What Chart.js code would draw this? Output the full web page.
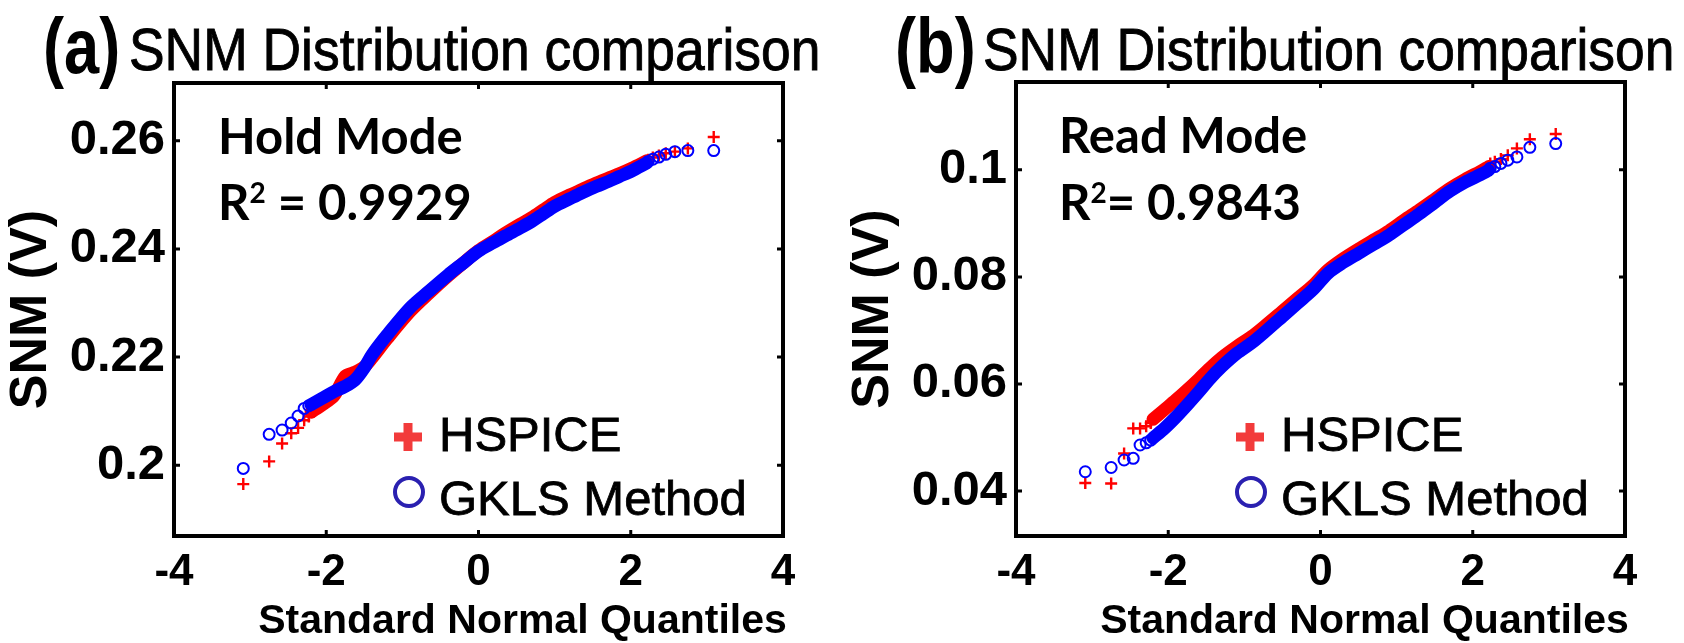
<!DOCTYPE html>
<html>
<head>
<meta charset="utf-8">
<title>SNM Distribution comparison</title>
<script src="https://cdn.jsdelivr.net/npm/chart.js@4.4.0/dist/chart.umd.min.js"></script>
<style>
  html, body { margin: 0; padding: 0; background: #fff; }
  #figure { position: relative; width: 1684px; height: 643px; overflow: hidden; }
  .panel { position: absolute; top: 0; width: 842px; height: 643px; }
  .panel canvas { position: absolute; left: 0; top: 0; }
  .tag, .heading { position: absolute; white-space: nowrap; color: #000; line-height: 1;
                   font-family: 'Liberation Sans', Arial, sans-serif; transform-origin: 0 0; }
  .tag { font-size: 78px; font-weight: 700; top: 7px; transform: scaleX(0.81); }
  .heading { font-size: 60px; top: 20px; transform: scaleX(0.89); -webkit-text-stroke: 0.9px #000; }
  .note { position: absolute; white-space: nowrap; color: #000; line-height: 1;
          font-family: Lato, sans-serif; font-weight: 700; font-size: 49px; }
  .note sup { font-size: 28px; vertical-align: 0; position: relative; top: -17px; }
</style>
</head>
<body>
<div id="figure">
  <div class="panel" style="left:0">
    <canvas id="holdChart" width="842" height="643"></canvas>
    <div class="tag" style="left:43px">(a)</div>
    <div class="heading" style="left:129px">SNM Distribution comparison</div>
    <div class="note" style="left:218px; top:111px">Hold Mode</div>
    <div class="note" style="left:218px; top:177px">R<sup>2</sup> = 0.9929</div>
  </div>
  <div class="panel" style="left:842px">
    <canvas id="readChart" width="842" height="643"></canvas>
    <div class="tag" style="left:53px">(b)</div>
    <div class="heading" style="left:141px">SNM Distribution comparison</div>
    <div class="note" style="left:217px; top:110px">Read Mode</div>
    <div class="note" style="left:217px; top:177px">R<sup>2</sup>= 0.9843</div>
  </div>
</div>

<script>
Chart.defaults.font.family = "'Liberation Sans', Arial, sans-serif";
Chart.defaults.color = '#000';

// shared x axis: standard normal quantiles
const xTicks = [-4, -2, 0, 2, 4];
const xRange = [-4, 4];
const xAxisTitle = 'Standard Normal Quantiles';
const yAxisTitle = 'SNM (V)';
const legendLabels = ['HSPICE', 'GKLS Method'];

// quantiles of the isolated samples at both ends of the distribution
const tailQuantLow = [-3.09, -2.75, -2.58, -2.46, -2.37, -2.29, -2.23];
const tailQuantHigh = [2.23, 2.29, 2.37, 2.46, 2.58, 2.75, 3.09];

// ---- (a) hold mode ----
const holdYTicks = [0.2, 0.22, 0.24, 0.26];
const holdYRange = [0.1869, 0.2707];
const holdBandQuant = [-2.20, -2.05, -1.90, -1.75, -1.62, -1.50, -1.40, -1.20, -0.90, -0.65, -0.40, -0.20, 0.00,
                       0.20, 0.35, 0.55, 0.70, 0.85, 1.00, 1.20, 1.36, 1.55, 1.71, 1.85, 2.01, 2.21];
const holdHspiceBand = [0.2098, 0.2112, 0.2128, 0.2165, 0.2172, 0.2182, 0.2198, 0.2234, 0.2284, 0.2318, 0.2350, 0.2374, 0.2397,
                        0.2415, 0.2429, 0.2446, 0.2458, 0.2472, 0.2486, 0.2500, 0.2510, 0.2522, 0.2531, 0.2539, 0.2549, 0.2563];
const holdGklsBand = [0.2112, 0.2124, 0.2136, 0.2146, 0.2158, 0.2180, 0.2204, 0.2241, 0.2291, 0.2322, 0.2352, 0.2374, 0.2396,
                      0.2412, 0.2424, 0.2439, 0.2451, 0.2465, 0.2479, 0.2493, 0.2504, 0.2516, 0.2525, 0.2534, 0.2544, 0.2559];
const holdHspiceLow = [0.1965, 0.2007, 0.2040, 0.2059, 0.2069, 0.2083, 0.2090];
const holdHspiceHigh = [0.2565, 0.2569, 0.2573, 0.2577, 0.2580, 0.2586, 0.2607];
const holdGklsLow = [0.1994, 0.2057, 0.2065, 0.2078, 0.2091, 0.2105, 0.2110];
const holdGklsHigh = [0.2562, 0.2566, 0.2570, 0.2575, 0.2580, 0.2582, 0.2582];

// ---- (b) read mode ----
const readYTicks = [0.04, 0.06, 0.08, 0.1];
const readYRange = [0.0316, 0.1164];
const readBandQuant = [-2.20, -2.05, -1.90, -1.75, -1.60, -1.45, -1.30, -1.10, -0.90, -0.70, -0.50, -0.30, -0.10,
                       0.10, 0.30, 0.50, 0.70, 0.90, 1.10, 1.30, 1.50, 1.70, 1.90, 2.10, 2.21];
const readHspiceBand = [0.0534, 0.0552, 0.0570, 0.0589, 0.0609, 0.0630, 0.0649, 0.0670, 0.0689, 0.0712, 0.0736, 0.0760, 0.0784,
                        0.0813, 0.0834, 0.0852, 0.0869, 0.0886, 0.0906, 0.0925, 0.0945, 0.0965, 0.0982, 0.0997, 0.1006];
const readGklsBand = [0.0499, 0.0517, 0.0538, 0.0561, 0.0585, 0.0610, 0.0632, 0.0657, 0.0677, 0.0701, 0.0726, 0.0751, 0.0776,
                      0.0807, 0.0827, 0.0844, 0.0861, 0.0878, 0.0898, 0.0918, 0.0939, 0.0960, 0.0977, 0.0991, 0.0999];
const readHspiceLow = [0.0415, 0.0414, 0.0470, 0.0517, 0.0517, 0.0521, 0.0527];
const readHspiceHigh = [0.1012, 0.1015, 0.1020, 0.1027, 0.1040, 0.1057, 0.1067];
const readGklsLow = [0.0436, 0.0444, 0.0458, 0.0461, 0.0486, 0.0490, 0.0495];
const readGklsHigh = [0.1003, 0.1006, 0.1012, 0.1018, 0.1024, 0.1042, 0.1049];

const RED = '#ff0000';
const BLUE = '#0000ff';

function toPoints(xs, ys) {
    return xs.map((x, i) => ({ x: x, y: ys[i] }));
}

// box frame with inward ticks on all four sides, plus the x axis title
const framePlugin = {
    id: 'frame',
    afterDatasetsDraw(chart) {
        const { ctx, chartArea: a, scales: { x, y } } = chart;
        const len = 6;
        ctx.save();
        ctx.strokeStyle = '#000';
        ctx.lineWidth = 3;
        ctx.beginPath();
        x.ticks.forEach(t => {
            const px = x.getPixelForValue(t.value);
            if (px < a.left + 2 || px > a.right - 2) return;
            ctx.moveTo(px, a.bottom); ctx.lineTo(px, a.bottom - len);
            ctx.moveTo(px, a.top); ctx.lineTo(px, a.top + len);
        });
        y.ticks.forEach(t => {
            const py = y.getPixelForValue(t.value);
            ctx.moveTo(a.left, py); ctx.lineTo(a.left + len, py);
            ctx.moveTo(a.right, py); ctx.lineTo(a.right - len, py);
        });
        ctx.stroke();
        ctx.lineWidth = 4;
        ctx.strokeRect(a.left, a.top, a.width, a.height);

        // axis title sits a little right of the axis centre
        ctx.fillStyle = '#000';
        ctx.font = "bold 41px 'Liberation Sans', Arial, sans-serif";
        ctx.textAlign = 'center';
        ctx.textBaseline = 'alphabetic';
        ctx.fillText(xAxisTitle, (a.left + a.right) / 2 + 44, 633);
        ctx.restore();
    }
};

// legend inside the lower right of the axes
const markerLegendPlugin = {
    id: 'markerLegend',
    afterDraw(chart) {
        const { ctx, chartArea: a } = chart;
        const mx = a.left + 234;
        const tx = a.left + 265;
        ctx.save();
        // thick red plus
        ctx.strokeStyle = '#f23b3b';
        ctx.lineWidth = 9;
        ctx.beginPath();
        ctx.moveTo(mx - 14, 437); ctx.lineTo(mx + 14, 437);
        ctx.moveTo(mx, 423); ctx.lineTo(mx, 451);
        ctx.stroke();
        // open blue circle
        ctx.strokeStyle = '#2a20b0';
        ctx.lineWidth = 4;
        ctx.beginPath();
        ctx.arc(mx + 1, 492, 14, 0, Math.PI * 2);
        ctx.stroke();
        ctx.fillStyle = '#000';
        ctx.strokeStyle = '#000';
        ctx.lineWidth = 0.8;
        ctx.font = "49px 'Liberation Sans', Arial, sans-serif";
        ctx.textBaseline = 'alphabetic';
        legendLabels.forEach((label, i) => {
            const ty = i === 0 ? 451 : 515;
            ctx.fillText(label, tx, ty);
            ctx.strokeText(label, tx, ty);
        });
        ctx.restore();
    }
};

function buildDatasets(bandQuant, hspiceBand, gklsBand, hspiceLow, hspiceHigh, gklsLow, gklsHigh) {
    const tailQuant = tailQuantLow.concat(tailQuantHigh);
    return [{
        label: legendLabels[1],
        data: toPoints(bandQuant, gklsBand),
        showLine: true,
        borderColor: BLUE,
        borderWidth: 13,
        borderCapStyle: 'round',
        borderJoinStyle: 'round',
        tension: 0.3,
        pointRadius: 0,
        order: 1
    }, {
        label: legendLabels[1],
        data: toPoints(tailQuant, gklsLow.concat(gklsHigh)),
        pointStyle: 'circle',
        pointRadius: 5.5,
        borderWidth: 2,
        borderColor: BLUE,
        backgroundColor: 'rgba(0,0,0,0)',
        order: 1
    }, {
        label: legendLabels[0],
        data: toPoints(bandQuant, hspiceBand),
        showLine: true,
        borderColor: RED,
        borderWidth: 13,
        borderCapStyle: 'round',
        borderJoinStyle: 'round',
        tension: 0.3,
        pointRadius: 0,
        order: 2
    }, {
        label: legendLabels[0],
        data: toPoints(tailQuant, hspiceLow.concat(hspiceHigh)),
        pointStyle: 'cross',
        pointRadius: 6,
        borderWidth: 2.4,
        borderColor: RED,
        order: 2
    }];
}

function buildScales(yRange, yTicks) {
    return {
        x: {
            type: 'linear',
            min: xRange[0],
            max: xRange[1],
            afterBuildTicks: s => { s.ticks = xTicks.map(v => ({ value: v })); },
            afterFit: s => { s.height = 107; },
            grid: { display: false, drawTicks: false },
            border: { display: false },
            ticks: { font: { size: 44, weight: 'bold' }, padding: 10, maxRotation: 0, autoSkip: false }
        },
        y: {
            type: 'linear',
            min: yRange[0],
            max: yRange[1],
            afterBuildTicks: s => { s.ticks = yTicks.map(v => ({ value: v })); },
            afterFit: s => { s.width = 174; },
            grid: { display: false, drawTicks: false },
            border: { display: false },
            ticks: { font: { size: 49, weight: 'bold' }, padding: 9, autoSkip: false,
                      callback: v => String(Number(v.toFixed(2))) },
            title: { display: true, text: yAxisTitle,
                     font: { size: 52, weight: 'bold' }, padding: { top: 0, bottom: 0 } }
        }
    };
}

function initializeQQChart(canvasId, datasets, yRange, yTicks, topPad) {
    const ctx = document.getElementById(canvasId).getContext('2d');
    return new Chart(ctx, {
        type: 'scatter',
        data: { datasets: datasets },
        options: {
            responsive: false,
            animation: false,
            layout: { padding: { top: topPad, right: 59, bottom: 0, left: 0 } },
            plugins: { legend: { display: false }, tooltip: { enabled: false } },
            scales: buildScales(yRange, yTicks)
        },
        plugins: [framePlugin, markerLegendPlugin]
    });
}

initializeQQChart('holdChart',
    buildDatasets(holdBandQuant, holdHspiceBand, holdGklsBand, holdHspiceLow, holdHspiceHigh, holdGklsLow, holdGklsHigh),
    holdYRange, holdYTicks, 83);
initializeQQChart('readChart',
    buildDatasets(readBandQuant, readHspiceBand, readGklsBand, readHspiceLow, readHspiceHigh, readGklsLow, readGklsHigh),
    readYRange, readYTicks, 82);
</script>
</body>
</html>
